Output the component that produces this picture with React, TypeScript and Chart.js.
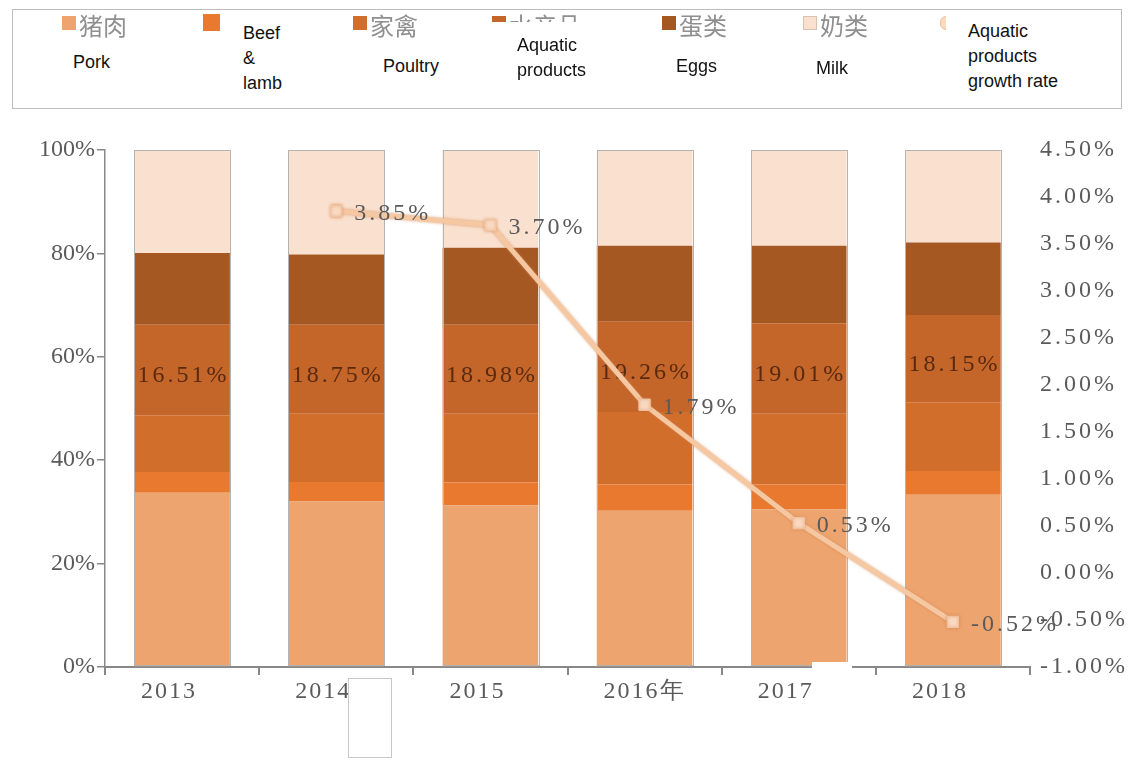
import React, { useEffect, useRef } from "react";
import { Chart, registerables } from "chart.js";

Chart.register(...registerables);

// ---- data ----
const years = ["2013", "2014", "2015", "2016年", "2017", "2018"];
const pork = [33.7, 32.0, 31.3, 30.2, 30.5, 33.3];
const beefLamb = [4.0, 3.8, 4.4, 5.1, 4.8, 4.6];
const poultry = [11.0, 13.2, 13.3, 14.0, 13.7, 13.3];
const aquatic = [17.5, 17.2, 17.2, 17.5, 17.5, 16.9];
const eggs = [13.9, 13.6, 14.9, 14.7, 15.0, 14.0];
const milk = [19.9, 20.2, 18.9, 18.5, 18.5, 17.9];
const aquaticShareLabels = [16.51, 18.75, 18.98, 19.26, 19.01, 18.15];
const aquaticGrowth = [null, 3.85, 3.7, 1.79, 0.53, -0.52];

const leftTicks = { min: 0, max: 100, step: 20 };
const rightTicks = { min: -1, max: 4.5, step: 0.5 };

const legendChinese = ["猪肉", "牛羊肉", "家禽", "水产品", "蛋类", "奶类", "水产品增速"];
const legendEnglish = [
  ["Pork"],
  ["Beef", "&", "lamb"],
  ["Poultry"],
  ["Aquatic", "products"],
  ["Eggs"],
  ["Milk"],
  ["Aquatic", "products", "growth rate"],
];

// ---- styles ----
const colors = ["#EEA46E", "#E9792F", "#D26E2C", "#C4652A", "#A65823", "#FAE0CE"];
const lineColor = "#F6C8A2";
const markerColor = "#FAD9C1";
const serif = "'Liberation Serif', 'DejaVu Serif', serif";
const tickGrey = "#5a5a5a";

// legend layout (pixels)
const legendSquareX = [62, 203, 353, 492, 662, 803, 940];
const englishBoxes = [
  { left: 70, top: 48, w: 60, h: 26, pad: 3, padTop: 2 },
  { left: 221, top: 12, w: 78, h: 88, pad: 22, padTop: 9 },
  { left: 378, top: 52, w: 76, h: 26, pad: 5, padTop: 2 },
  { left: 488, top: 22, w: 120, h: 66, pad: 29, padTop: 11 },
  { left: 672, top: 52, w: 54, h: 26, pad: 4, padTop: 2 },
  { left: 812, top: 54, w: 44, h: 26, pad: 4, padTop: 2 },
  { left: 946, top: 12, w: 140, h: 90, pad: 22, padTop: 7 },
];

const fmtPct = (v: number) => v.toFixed(2) + "%";

function spaced(spacing: string) {
  return (scale: any) => {
    if (scale.__spaced) return;
    scale.__spaced = true;
    const orig = scale.drawLabels;
    scale.drawLabels = function (area: any) {
      const ctx = this.ctx;
      const prev = ctx.letterSpacing;
      ctx.letterSpacing = spacing;
      orig.call(this, area);
      ctx.letterSpacing = prev || "0px";
    };
  };
}

const labelPlugin = {
  id: "customLabels",
  beforeDatasetDraw(chart: any, args: any) {
    if (args.index !== 6) return;
    const ctx = chart.ctx;
    ctx.save();
    ctx.shadowColor = "rgba(205,135,85,0.75)";
    ctx.shadowBlur = 3;
  },
  afterDatasetDraw(chart: any, args: any) {
    const ctx = chart.ctx;
    if (args.index === 6) {
      ctx.restore();
      return;
    }
    if (args.index !== 0) return;
    const bottomMeta = chart.getDatasetMeta(0);
    const topMeta = chart.getDatasetMeta(5);
    ctx.save();
    ctx.strokeStyle = "#b3b3b3";
    ctx.lineWidth = 1;
    bottomMeta.data.forEach((el: any, i: number) => {
      const p = el.getProps(["x", "width", "base"], true);
      const t = topMeta.data[i].getProps(["y"], true);
      ctx.strokeRect(
        Math.round(p.x - p.width / 2) + 0.5,
        Math.round(t.y) + 0.5,
        Math.round(p.width),
        Math.round(p.base - t.y) - 1
      );
    });
    const aqMeta = chart.getDatasetMeta(3);
    ctx.font = `24px ${serif}`;
    ctx.fillStyle = "#5A2A0E";
    ctx.textAlign = "center";
    ctx.textBaseline = "middle";
    (ctx as any).letterSpacing = "3px";
    aqMeta.data.forEach((el: any, i: number) => {
      const p = el.getProps(["x", "y", "base"], true);
      ctx.fillText(fmtPct(aquaticShareLabels[i]), p.x + 1.5, (p.y + p.base) / 2 + 6);
    });
    ctx.restore();
  },
  afterDatasetsDraw(chart: any) {
    const ctx = chart.ctx;
    const meta = chart.getDatasetMeta(6);
    ctx.save();
    ctx.font = `24px ${serif}`;
    ctx.fillStyle = tickGrey;
    ctx.textAlign = "left";
    ctx.textBaseline = "middle";
    (ctx as any).letterSpacing = "3px";
    meta.data.forEach((el: any, i: number) => {
      const v = aquaticGrowth[i];
      if (v === null || v === undefined) return;
      const p = el.getProps(["x", "y"], true);
      ctx.fillText(fmtPct(v), p.x + 18, p.y + 3);
    });
    ctx.restore();
  },
};

export default function App() {
  const ref = useRef<HTMLCanvasElement>(null);

  useEffect(() => {
    const canvas = ref.current!;
    const barSeries = [pork, beefLamb, poultry, aquatic, eggs, milk];
    const chart = new Chart(canvas, {
      type: "bar",
      data: {
        labels: years,
        datasets: [
          ...barSeries.map((d, i) => ({
            type: "bar" as const,
            label: legendChinese[i],
            data: d,
            backgroundColor: colors[i],
            borderWidth: 0,
            yAxisID: "y",
            order: 1,
            barPercentage: 0.62,
            categoryPercentage: 1,
          })),
          {
            type: "line" as const,
            label: legendChinese[6],
            data: aquaticGrowth as any,
            yAxisID: "y1",
            order: 0,
            borderColor: lineColor,
            borderWidth: 5,
            pointStyle: "rect",
            pointRadius: 8,
            pointBackgroundColor: markerColor,
            pointBorderColor: "#F3C4A0",
            pointBorderWidth: 1,
            tension: 0,
          },
        ],
      },
      options: {
        responsive: false,
        animation: false,
        layout: { padding: { top: 150, left: 0, right: 0, bottom: 0 } },
        plugins: {
          legend: { display: false },
          tooltip: { enabled: false },
        },
        scales: {
          x: {
            stacked: true,
            offset: true,
            grid: {
              display: true,
              offset: true,
              drawOnChartArea: false,
              drawTicks: true,
              tickLength: 8,
              color: "#888",
              lineWidth: 2,
            },
            border: { display: true, color: "#888", width: 2 },
            ticks: {
              color: tickGrey,
              font: { family: serif, size: 24 },
              padding: 2,
              maxRotation: 0,
              callback: (_v: any, i: number) => {
                const l = years[i];
                return l.endsWith("年") ? l : l + "\u3000";
              },
            },
            afterFit: (s: any) => {
              s.height = 94;
            },
            afterUpdate: spaced("2px"),
          },
          y: {
            stacked: true,
            position: "left",
            min: leftTicks.min,
            max: leftTicks.max,
            grid: {
              display: true,
              drawOnChartArea: false,
              drawTicks: true,
              tickLength: 8,
              color: "#888",
              lineWidth: 1.5,
            },
            border: { display: true, color: "#888", width: 1.5 },
            ticks: {
              stepSize: leftTicks.step,
              color: tickGrey,
              font: { family: serif, size: 24 },
              padding: 2,
              callback: (v: any) => v + "%",
            },
            afterFit: (s: any) => {
              s.width = 105;
            },
          },
          y1: {
            position: "right",
            min: rightTicks.min,
            max: rightTicks.max,
            grid: { display: false, drawTicks: false, drawOnChartArea: false },
            border: { display: false },
            ticks: {
              stepSize: rightTicks.step,
              color: tickGrey,
              font: { family: serif, size: 24 },
              padding: 10,
              callback: (v: any) => Number(v).toFixed(2) + "%",
            },
            afterFit: (s: any) => {
              s.width = 103;
            },
            afterUpdate: spaced("3px"),
          },
        },
      },
      plugins: [labelPlugin],
    } as any);
    return () => chart.destroy();
  }, []);

  return (
    <div
      style={{
        position: "fixed",
        left: 0,
        top: 0,
        width: 1133,
        height: 761,
        background: "#fff",
        overflow: "hidden",
      }}
    >
      <canvas
        ref={ref}
        width={1133}
        height={761}
        style={{ position: "absolute", left: 0, top: 0, width: 1133, height: 761 }}
      />
      {/* legend box */}
      <div
        style={{
          position: "absolute",
          left: 12,
          top: 9,
          width: 1108,
          height: 98,
          border: "1px solid #bdbdbd",
          background: "#fff",
        }}
      />
      {legendChinese.map((name, i) => (
        <React.Fragment key={"c" + i}>
          {i < 6 ? (
            <div
              style={{
                position: "absolute",
                left: legendSquareX[i],
                top: i === 1 ? 14 : 16,
                width: i === 1 ? 17 : 14,
                height: i === 1 ? 17 : 14,
                background: colors[i],
                border: i === 5 ? "1px solid #d9c2b0" : "none",
                boxSizing: "border-box",
              }}
            />
          ) : (
            <div
              style={{
                position: "absolute",
                left: legendSquareX[i],
                top: 16,
                width: 12,
                height: 12,
                background: markerColor,
                border: "1px solid #F2C09A",
                borderRadius: 6,
              }}
            />
          )}
          <div
            style={{
              position: "absolute",
              left: legendSquareX[i] + 17,
              top: 10,
              fontFamily: "'Noto Sans CJK SC', sans-serif",
              fontSize: 24,
              lineHeight: "30px",
              color: "#8f8f8f",
              whiteSpace: "nowrap",
            }}
          >
            {name}
          </div>
        </React.Fragment>
      ))}
      {legendEnglish.map((lines, i) => {
        const b = englishBoxes[i];
        return (
          <div
            key={"e" + i}
            style={{
              position: "absolute",
              left: b.left,
              top: b.top,
              width: b.w,
              height: b.h,
              paddingLeft: b.pad,
              paddingTop: b.padTop,
              boxSizing: "border-box",
              background: "#fff",
              fontFamily: "'Liberation Sans', Arial, sans-serif",
              fontSize: 18,
              lineHeight: "25px",
              color: "#111",
              whiteSpace: "nowrap",
            }}
          >
            {lines.map((l, j) => (
              <div key={j}>{l}</div>
            ))}
          </div>
        );
      })}
      {/* stray boxes from the source image */}
      <div
        style={{
          position: "absolute",
          left: 348,
          top: 678,
          width: 44,
          height: 80,
          border: "1px solid #c8c8c8",
          background: "#fff",
          boxSizing: "border-box",
        }}
      />
      <div
        style={{
          position: "absolute",
          left: 812,
          top: 662,
          width: 40,
          height: 10,
          background: "#fff",
        }}
      />
    </div>
  );
}
